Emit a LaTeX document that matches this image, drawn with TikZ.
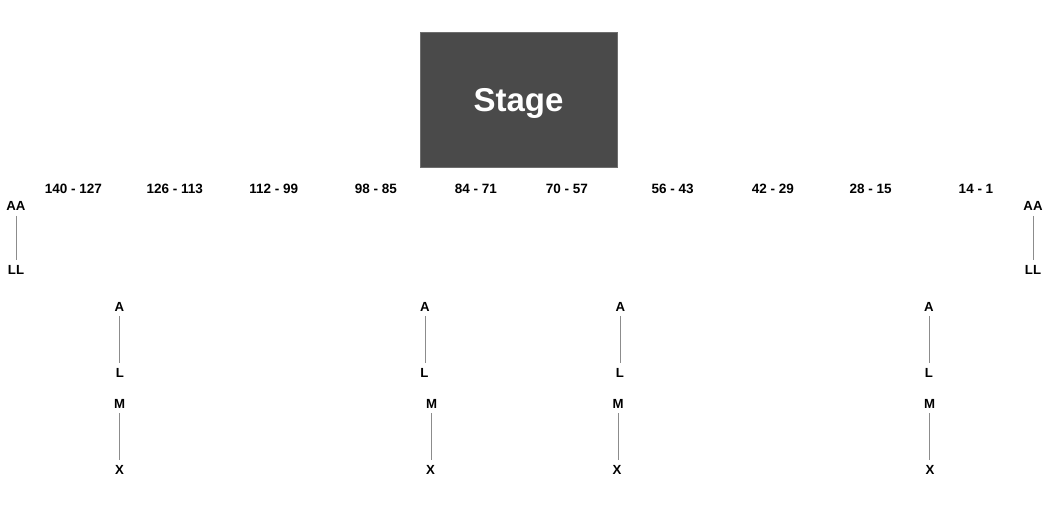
\documentclass[tikz,border=0pt]{standalone}
\usepackage{fontspec}
\setmainfont{Liberation Sans}
\usepackage{tikz}
\definecolor{stagegray}{RGB}{74,74,74}
\definecolor{rowgray}{RGB}{140,140,140}
\tikzstyle{stagebox} = [rectangle, fill=stagegray, draw=stagegray!80, minimum width=197pt, minimum height=135pt, text=white, font=\bfseries\fontsize{33}{33}\selectfont, text height=23.5pt, text depth=0pt, inner sep=0pt]
\tikzstyle{seats} = [font=\bfseries\fontsize{13.5}{14}\selectfont, text height=9.5pt, text depth=0pt, inner sep=0pt]
\tikzstyle{rowname} = [font=\bfseries\fontsize{13.2}{14}\selectfont, text height=9.3pt, text depth=0pt, inner ysep=5pt, inner xsep=0pt]
\tikzstyle{rowline} = [draw=rowgray, line width=0.9pt]

\begin{document}
\begin{tikzpicture}[x=1pt,y=-1pt]
\useasboundingbox (0,0) rectangle (1050,516);
\node [stagebox] (stage) at (518.5,99.5) {Stage};

% seat ranges along the front
\node [seats] (s140) at (73.5,188.5) {140 - 127};
\node [seats] (s126) at (174.7,188.5) {126 - 113};
\node [seats] (s112) at (273.8,188.5) {112 - 99};
\node [seats] (s98) at (376,188.5) {98 - 85};
\node [seats] (s84) at (475.8,188.5) {84 - 71};
\node [seats] (s70) at (567,188.5) {70 - 57};
\node [seats] (s56) at (672.6,188.5) {56 - 43};
\node [seats] (s42) at (773,188.5) {42 - 29};
\node [seats] (s28) at (870.7,188.5) {28 - 15};
\node [seats] (s14) at (976,188.5) {14 - 1};

% side rows
\node [rowname] (aaW) at (16,206) {AA};
\node [rowname] (llW) at (16,269.5) {LL};
\node [rowname] (aaE) at (1033,206) {AA};
\node [rowname] (llE) at (1033,269.5) {LL};
\draw [rowline] (aaW) -- (llW);
\draw [rowline] (aaE) -- (llE);

% floor rows, first block
\node [rowname] (a1) at (119.5,306.5) {A};
\node [rowname] (l1) at (120,372.5) {L};
\node [rowname] (a2) at (425,306.5) {A};
\node [rowname] (l2) at (424.5,372.5) {L};
\node [rowname] (a3) at (620.5,306.5) {A};
\node [rowname] (l3) at (620,372.5) {L};
\node [rowname] (a4) at (929,306.5) {A};
\node [rowname] (l4) at (929,372.5) {L};
\draw [rowline] (a1) -- (a1 |- l1.north);
\draw [rowline] (a2) -- (a2 |- l2.north);
\draw [rowline] (a3) -- (a3 |- l3.north);
\draw [rowline] (a4) -- (a4 |- l4.north);

% floor rows, second block
\node [rowname] (m1) at (119.5,403.5) {M};
\node [rowname] (x1) at (119.5,470) {X};
\node [rowname] (m2) at (431.5,403.5) {M};
\node [rowname] (x2) at (430.5,470) {X};
\node [rowname] (m3) at (618,403.5) {M};
\node [rowname] (x3) at (617,470) {X};
\node [rowname] (m4) at (929.5,403.5) {M};
\node [rowname] (x4) at (930,470) {X};
\draw [rowline] (m1) -- (m1 |- x1.north);
\draw [rowline] (m2) -- (m2 |- x2.north);
\draw [rowline] (m3) -- (m3 |- x3.north);
\draw [rowline] (m4) -- (m4 |- x4.north);
\end{tikzpicture}
\end{document}
